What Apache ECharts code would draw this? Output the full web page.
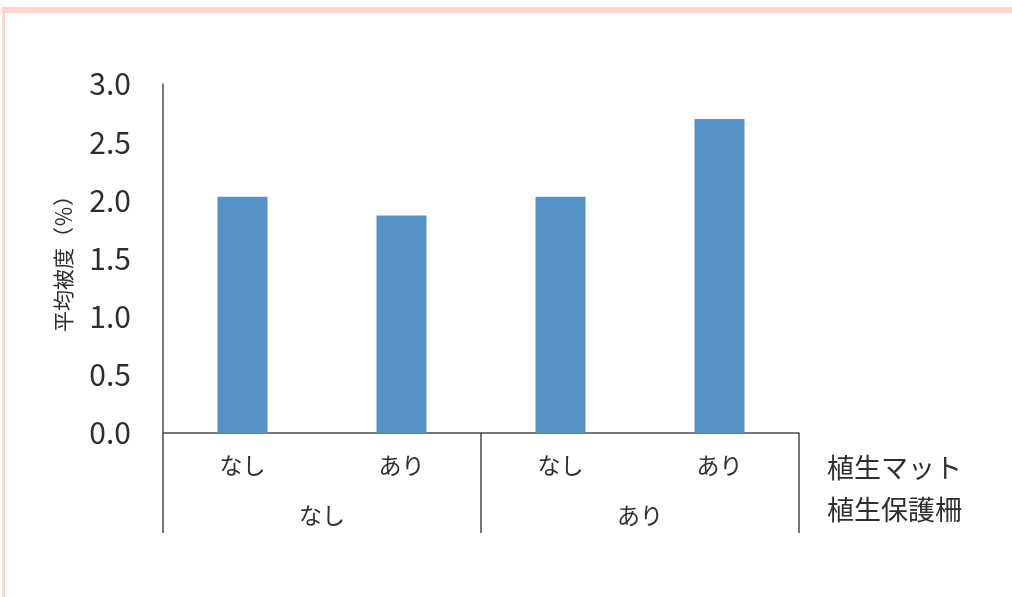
<!DOCTYPE html>
<html>
<head>
<meta charset="utf-8">
<script src="https://cdn.jsdelivr.net/npm/echarts@6/dist/echarts.min.js"></script>
<style>
  html, body { margin: 0; padding: 0; background: #ffffff; }
  #chart { width: 1012px; height: 597px; }
</style>
</head>
<body>
<div id="chart"></div>
<script>
// 植生マット (inner level) and 植生保護柵 (outer level) conditions
const matLabels = ['なし', 'あり', 'なし', 'あり'];
const fenceLabels = ['なし', 'あり'];
// 平均被度 (%) for each combination
const coverValues = [2.03, 1.87, 2.03, 2.70];
const yTicks = { min: 0, max: 3, interval: 0.5 };
const innerAxisName = '植生マット';
const outerAxisName = '植生保護柵';
const yAxisName = '平均被度（％）';

const FONT = '"Noto Sans CJK JP", "Noto Sans", sans-serif';
const TEXT = '#2e2e2e';
const LINE = '#4a4a4a';
const FRAME = '#fcd4ca';

const chart = echarts.init(document.getElementById('chart'), null, { renderer: 'canvas' });

chart.setOption({
  backgroundColor: '#ffffff',
  animation: false,
  textStyle: { fontFamily: FONT, color: TEXT },
  grid: { left: 163, right: 213, top: 84, bottom: 164, containLabel: false },
  graphic: [
    { type: 'rect', shape: { x: 2, y: 7, width: 1010, height: 6 }, style: { fill: FRAME }, silent: true },
    { type: 'rect', shape: { x: 2, y: 7, width: 3, height: 590 }, style: { fill: FRAME }, silent: true }
  ],
  xAxis: [
    {
      type: 'category',
      data: matLabels,
      position: 'bottom',
      axisLine: { show: true, lineStyle: { color: LINE, width: 1.5 } },
      axisTick: { show: false },
      axisLabel: { color: TEXT, fontFamily: FONT, fontSize: 23, margin: 21 },
      name: innerAxisName,
      nameLocation: 'end',
      nameGap: 28,
      nameTextStyle: {
        color: TEXT, fontFamily: FONT, fontSize: 27,
        align: 'left', verticalAlign: 'top', padding: [21, 0, 0, 0]
      }
    },
    {
      type: 'category',
      data: fenceLabels,
      position: 'bottom',
      offset: 0,
      boundaryGap: true,
      axisLine: { show: false },
      axisTick: { show: true, alignWithLabel: false, length: 100, lineStyle: { color: LINE, width: 1.5 } },
      axisLabel: { color: TEXT, fontFamily: FONT, fontSize: 23, margin: 71 },
      name: outerAxisName,
      nameLocation: 'end',
      nameGap: 28,
      nameTextStyle: {
        color: TEXT, fontFamily: FONT, fontSize: 27,
        align: 'left', verticalAlign: 'top', padding: [63, 0, 0, 0]
      }
    }
  ],
  yAxis: {
    type: 'value',
    min: yTicks.min,
    max: yTicks.max,
    interval: yTicks.interval,
    axisLine: { show: true, lineStyle: { color: LINE, width: 1.5 } },
    axisTick: { show: false },
    splitLine: { show: false },
    axisLabel: {
      color: TEXT, fontFamily: FONT, fontSize: 30, margin: 32,
      formatter: v => v.toFixed(1)
    },
    name: yAxisName,
    nameLocation: 'middle',
    nameGap: 89,
    nameRotate: 90,
    nameTextStyle: { color: TEXT, fontFamily: FONT, fontSize: 21 }
  },
  series: [
    {
      type: 'bar',
      xAxisIndex: 0,
      data: coverValues,
      barWidth: 50,
      itemStyle: { color: '#5592c8' }
    }
  ]
});
</script>
</body>
</html>
